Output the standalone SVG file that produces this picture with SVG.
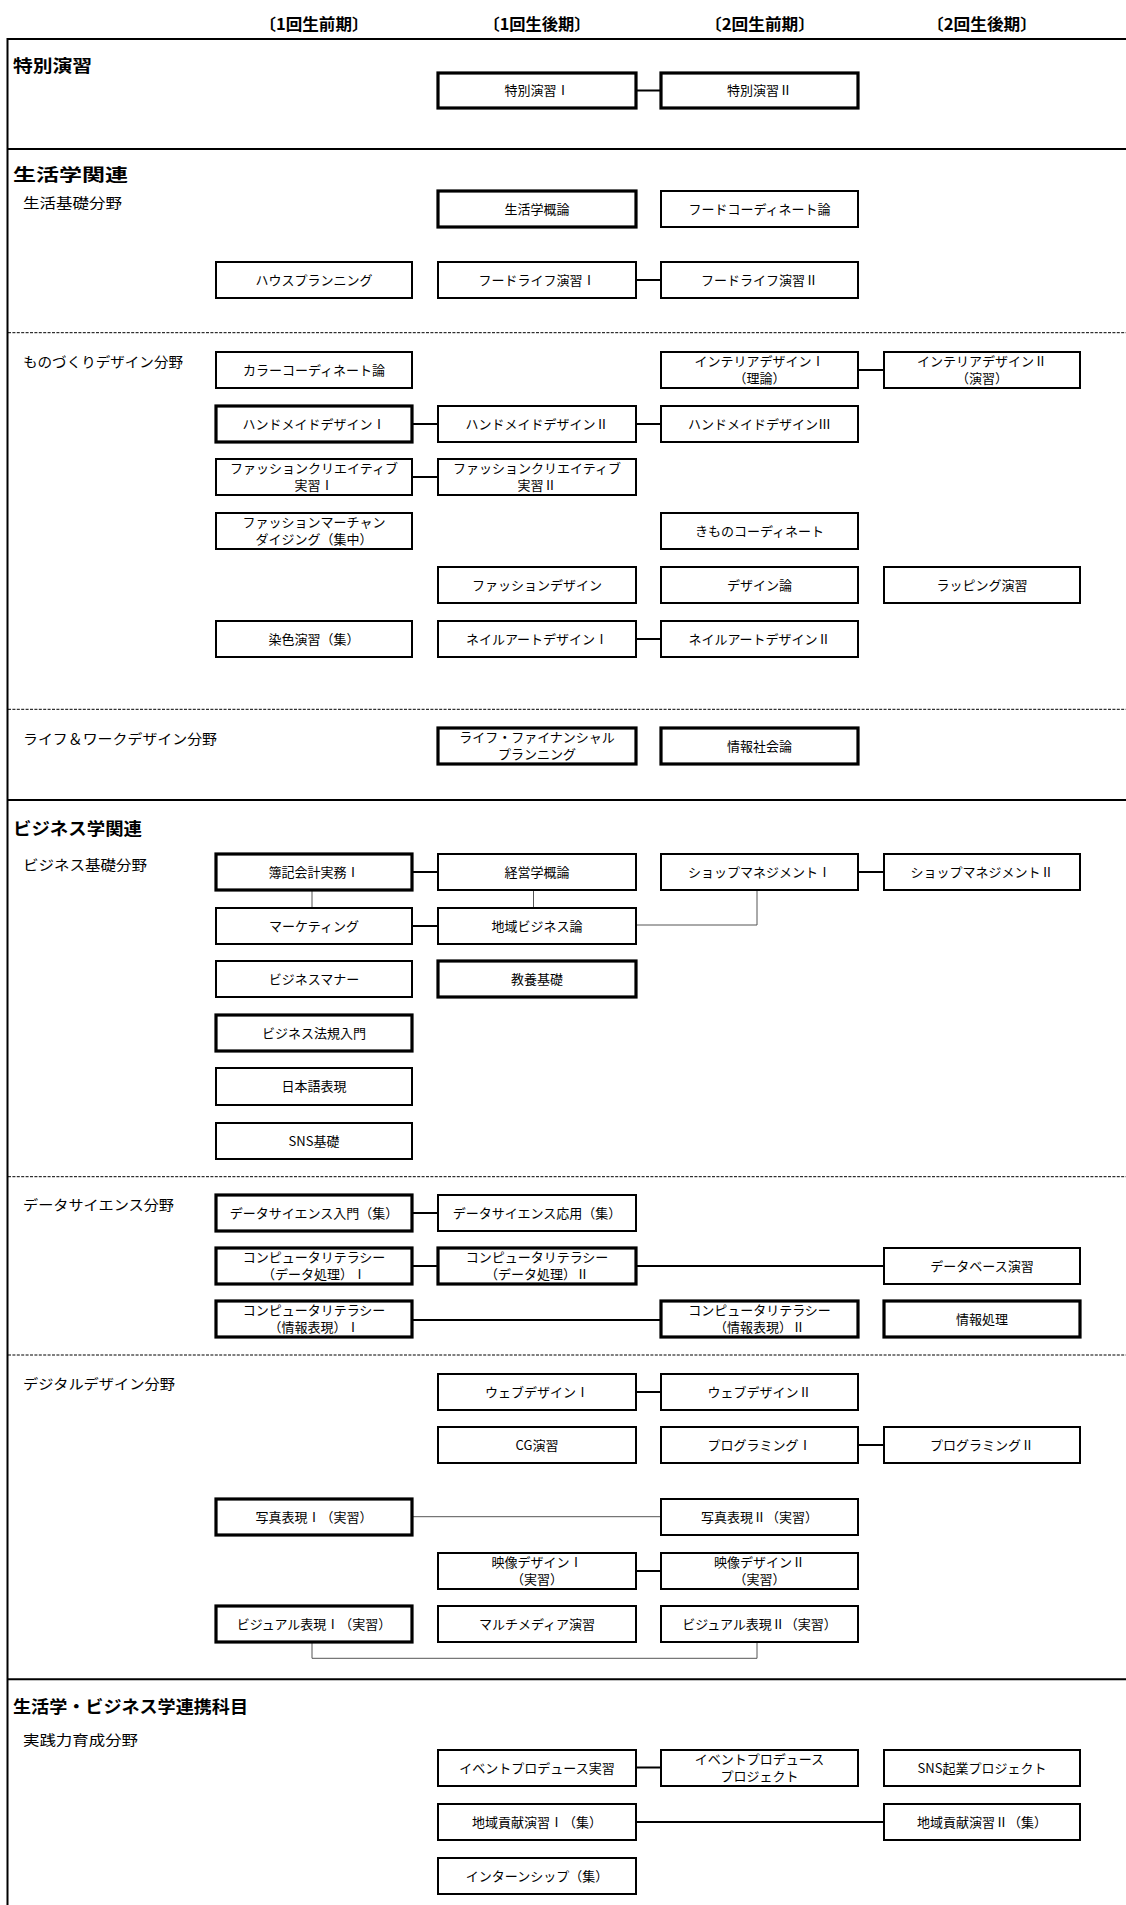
<svg xmlns="http://www.w3.org/2000/svg" width="1126" height="1905" viewBox="0 0 1126 1905">
<style>
.bg{fill:#fff}
.box{fill:#fff;stroke:#000;stroke-width:2}
.thick{stroke-width:3.2}
.t{font-family:"Noto Sans CJK JP","Noto Sans",sans-serif;font-size:13px;text-anchor:middle;fill:#000}
.hd{font-family:"Noto Sans CJK JP","Noto Sans",sans-serif;font-size:16px;font-weight:700;text-anchor:middle;fill:#000}
.ttl{font-family:"Noto Sans CJK JP","Noto Sans",sans-serif;font-size:17px;font-weight:700;fill:#000}
.lbl{font-family:"Noto Sans CJK JP","Noto Sans",sans-serif;font-size:14px;fill:#000}
.solid{stroke:#000;stroke-width:2;fill:none}
.dash{stroke:#000;stroke-width:1;stroke-dasharray:3 1.4;fill:none}
.conn{stroke:#000;stroke-width:2;fill:none}
.gconn{stroke:#555;stroke-width:1;fill:none}
</style>
<rect class="bg" x="0" y="0" width="1126" height="1905"/>

<g id="headers">
<text class="hd" x="314" y="30" textLength="109" lengthAdjust="spacingAndGlyphs">〔1回生前期〕</text>
<text class="hd" x="537" y="30" textLength="107" lengthAdjust="spacingAndGlyphs">〔1回生後期〕</text>
<text class="hd" x="760" y="30" textLength="110" lengthAdjust="spacingAndGlyphs">〔2回生前期〕</text>
<text class="hd" x="982" y="30" textLength="110" lengthAdjust="spacingAndGlyphs">〔2回生後期〕</text>
</g>

<g id="frame">
<line class="solid" x1="7.5" y1="39" x2="1126" y2="39"/>
<line class="solid" x1="7.5" y1="38" x2="7.5" y2="1905"/>
<line class="solid" x1="7.5" y1="149" x2="1126" y2="149"/>
<line class="dash" x1="8" y1="332.7" x2="1126" y2="332.7"/>
<line class="dash" x1="8" y1="709.3" x2="1126" y2="709.3"/>
<line class="solid" x1="7.5" y1="800" x2="1126" y2="800"/>
<line class="dash" x1="8" y1="1176.7" x2="1126" y2="1176.7"/>
<line class="dash" x1="8" y1="1355" x2="1126" y2="1355"/>
<line class="solid" x1="7.5" y1="1679.3" x2="1126" y2="1679.3"/>
</g>

<g id="section-labels">
<text class="ttl" x="13" y="72" textLength="79" lengthAdjust="spacingAndGlyphs">特別演習</text>
<text class="ttl" x="13" y="181" textLength="115" lengthAdjust="spacingAndGlyphs">生活学関連</text>
<text class="ttl" x="13" y="834.5" textLength="129" lengthAdjust="spacingAndGlyphs">ビジネス学関連</text>
<text class="ttl" x="13" y="1713" textLength="235" lengthAdjust="spacingAndGlyphs">生活学・ビジネス学連携科目</text>
<text class="lbl" x="23" y="207.5" textLength="99" lengthAdjust="spacingAndGlyphs">生活基礎分野</text>
<text class="lbl" x="23" y="367" textLength="160" lengthAdjust="spacingAndGlyphs">ものづくりデザイン分野</text>
<text class="lbl" x="23" y="743.5" textLength="194" lengthAdjust="spacingAndGlyphs">ライフ＆ワークデザイン分野</text>
<text class="lbl" x="23" y="870.3" textLength="124" lengthAdjust="spacingAndGlyphs">ビジネス基礎分野</text>
<text class="lbl" x="23" y="1210.3" textLength="151" lengthAdjust="spacingAndGlyphs">データサイエンス分野</text>
<text class="lbl" x="23" y="1388.6" textLength="152" lengthAdjust="spacingAndGlyphs">デジタルデザイン分野</text>
<text class="lbl" x="23" y="1745.3" textLength="115" lengthAdjust="spacingAndGlyphs">実践力育成分野</text>
</g>

<g id="connectors">
<line class="conn" x1="636" y1="90.5" x2="661" y2="90.5"/>
<line class="conn" x1="636" y1="280" x2="661" y2="280"/>
<line class="conn" x1="858" y1="370" x2="884" y2="370"/>
<line class="conn" x1="412" y1="424" x2="438" y2="424"/>
<line class="conn" x1="636" y1="424" x2="661" y2="424"/>
<line class="conn" x1="412" y1="477" x2="438" y2="477"/>
<line class="conn" x1="636" y1="639" x2="661" y2="639"/>
<line class="conn" x1="412" y1="872" x2="438" y2="872"/>
<line class="conn" x1="858" y1="872" x2="884" y2="872"/>
<line class="conn" x1="412" y1="926" x2="438" y2="926"/>
<line class="gconn" x1="312" y1="890" x2="312" y2="908"/>
<line class="gconn" x1="533.5" y1="890" x2="533.5" y2="908"/>
<polyline class="gconn" points="636,925 757,925 757,888"/>
<line class="conn" x1="412" y1="1213" x2="438" y2="1213"/>
<line class="conn" x1="412" y1="1266" x2="438" y2="1266"/>
<line class="conn" x1="636" y1="1266" x2="884" y2="1266"/>
<line class="conn" x1="412" y1="1320" x2="661" y2="1320"/>
<line class="conn" x1="636" y1="1392" x2="661" y2="1392"/>
<line class="conn" x1="858" y1="1445" x2="884" y2="1445"/>
<line class="gconn" x1="412" y1="1516.7" x2="661" y2="1516.7"/>
<line class="conn" x1="636" y1="1571" x2="661" y2="1571"/>
<polyline class="gconn" points="312,1643 312,1658.3 757,1658.3 757,1643"/>
<line class="conn" x1="636" y1="1767.5" x2="661" y2="1767.5"/>
<line class="conn" x1="636" y1="1822" x2="884" y2="1822"/>
</g>

<g id="n01"><rect class="box thick" x="438" y="73" width="198" height="35"/><text class="t" x="537" y="95">特別演習Ⅰ</text></g>
<g id="n02"><rect class="box thick" x="661" y="73" width="197" height="35"/><text class="t" x="759.5" y="95">特別演習Ⅱ</text></g>

<g id="n03"><rect class="box thick" x="438" y="191" width="198" height="36"/><text class="t" x="537" y="213.5">生活学概論</text></g>
<g id="n04"><rect class="box" x="661" y="191" width="197" height="36"/><text class="t" x="759.5" y="213.5">フードコーディネート論</text></g>
<g id="n05"><rect class="box" x="216" y="262" width="196" height="36"/><text class="t" x="314" y="284.5">ハウスプランニング</text></g>
<g id="n06"><rect class="box" x="438" y="262" width="198" height="36"/><text class="t" x="537" y="284.5">フードライフ演習Ⅰ</text></g>
<g id="n07"><rect class="box" x="661" y="262" width="197" height="36"/><text class="t" x="759.5" y="284.5">フードライフ演習Ⅱ</text></g>

<g id="n08"><rect class="box" x="216" y="352" width="196" height="36"/><text class="t" x="314" y="374.5">カラーコーディネート論</text></g>
<g id="n09"><rect class="box" x="661" y="352" width="197" height="36"/><text class="t" x="759.5" y="366">インテリアデザインⅠ</text><text class="t" x="759.5" y="382.5">（理論）</text></g>
<g id="n10"><rect class="box" x="884" y="352" width="196" height="36"/><text class="t" x="982" y="366">インテリアデザインⅡ</text><text class="t" x="982" y="382.5">（演習）</text></g>
<g id="n11"><rect class="box thick" x="216" y="406" width="196" height="36"/><text class="t" x="314" y="428.5">ハンドメイドデザインⅠ</text></g>
<g id="n12"><rect class="box" x="438" y="406" width="198" height="36"/><text class="t" x="537" y="428.5">ハンドメイドデザインⅡ</text></g>
<g id="n13"><rect class="box" x="661" y="406" width="197" height="36"/><text class="t" x="759.5" y="428.5">ハンドメイドデザインⅢ</text></g>
<g id="n14"><rect class="box" x="216" y="459" width="196" height="36"/><text class="t" x="314" y="473">ファッションクリエイティブ</text><text class="t" x="314" y="489.5">実習Ⅰ</text></g>
<g id="n15"><rect class="box" x="438" y="459" width="198" height="36"/><text class="t" x="537" y="473">ファッションクリエイティブ</text><text class="t" x="537" y="489.5">実習Ⅱ</text></g>
<g id="n16"><rect class="box" x="216" y="513" width="196" height="36"/><text class="t" x="314" y="527">ファッションマーチャン</text><text class="t" x="314" y="543.5">ダイジング（集中）</text></g>
<g id="n17"><rect class="box" x="661" y="513" width="197" height="36"/><text class="t" x="759.5" y="535.5">きものコーディネート</text></g>
<g id="n18"><rect class="box" x="438" y="567" width="198" height="36"/><text class="t" x="537" y="589.5">ファッションデザイン</text></g>
<g id="n19"><rect class="box" x="661" y="567" width="197" height="36"/><text class="t" x="759.5" y="589.5">デザイン論</text></g>
<g id="n20"><rect class="box" x="884" y="567" width="196" height="36"/><text class="t" x="982" y="589.5">ラッピング演習</text></g>
<g id="n21"><rect class="box" x="216" y="621" width="196" height="36"/><text class="t" x="314" y="643.5">染色演習（集）</text></g>
<g id="n22"><rect class="box" x="438" y="621" width="198" height="36"/><text class="t" x="537" y="643.5">ネイルアートデザインⅠ</text></g>
<g id="n23"><rect class="box" x="661" y="621" width="197" height="36"/><text class="t" x="759.5" y="643.5">ネイルアートデザインⅡ</text></g>

<g id="n24"><rect class="box thick" x="438" y="728" width="198" height="36"/><text class="t" x="537" y="742">ライフ・ファイナンシャル</text><text class="t" x="537" y="758.5">プランニング</text></g>
<g id="n25"><rect class="box thick" x="661" y="728" width="197" height="36"/><text class="t" x="759.5" y="750.5">情報社会論</text></g>

<g id="n26"><rect class="box thick" x="216" y="854" width="196" height="36"/><text class="t" x="314" y="876.5">簿記会計実務Ⅰ</text></g>
<g id="n27"><rect class="box" x="438" y="854" width="198" height="36"/><text class="t" x="537" y="876.5">経営学概論</text></g>
<g id="n28"><rect class="box" x="661" y="854" width="197" height="36"/><text class="t" x="759.5" y="876.5">ショップマネジメントⅠ</text></g>
<g id="n29"><rect class="box" x="884" y="854" width="196" height="36"/><text class="t" x="982" y="876.5">ショップマネジメントⅡ</text></g>
<g id="n30"><rect class="box" x="216" y="908" width="196" height="36"/><text class="t" x="314" y="930.5">マーケティング</text></g>
<g id="n31"><rect class="box" x="438" y="908" width="198" height="36"/><text class="t" x="537" y="930.5">地域ビジネス論</text></g>
<g id="n32"><rect class="box" x="216" y="961" width="196" height="36"/><text class="t" x="314" y="983.5">ビジネスマナー</text></g>
<g id="n33"><rect class="box thick" x="438" y="961" width="198" height="36"/><text class="t" x="537" y="983.5">教養基礎</text></g>
<g id="n34"><rect class="box thick" x="216" y="1015" width="196" height="36"/><text class="t" x="314" y="1037.5">ビジネス法規入門</text></g>
<g id="n35"><rect class="box" x="216" y="1068" width="196" height="37"/><text class="t" x="314" y="1091">日本語表現</text></g>
<g id="n36"><rect class="box" x="216" y="1123" width="196" height="36"/><text class="t" x="314" y="1145.5">SNS基礎</text></g>

<g id="n37"><rect class="box thick" x="216" y="1195" width="196" height="36"/><text class="t" x="314" y="1217.5">データサイエンス入門（集）</text></g>
<g id="n38"><rect class="box" x="438" y="1195" width="198" height="36"/><text class="t" x="537" y="1217.5">データサイエンス応用（集）</text></g>
<g id="n39"><rect class="box thick" x="216" y="1248" width="196" height="36"/><text class="t" x="314" y="1262">コンピュータリテラシー</text><text class="t" x="314" y="1278.5">（データ処理）Ⅰ</text></g>
<g id="n40"><rect class="box thick" x="438" y="1248" width="198" height="36"/><text class="t" x="537" y="1262">コンピュータリテラシー</text><text class="t" x="537" y="1278.5">（データ処理）Ⅱ</text></g>
<g id="n41"><rect class="box" x="884" y="1248" width="196" height="36"/><text class="t" x="982" y="1270.5">データベース演習</text></g>
<g id="n42"><rect class="box thick" x="216" y="1301" width="196" height="36"/><text class="t" x="314" y="1315">コンピュータリテラシー</text><text class="t" x="314" y="1331.5">（情報表現）Ⅰ</text></g>
<g id="n43"><rect class="box thick" x="661" y="1301" width="197" height="36"/><text class="t" x="759.5" y="1315">コンピュータリテラシー</text><text class="t" x="759.5" y="1331.5">（情報表現）Ⅱ</text></g>
<g id="n44"><rect class="box thick" x="884" y="1301" width="196" height="36"/><text class="t" x="982" y="1323.5">情報処理</text></g>

<g id="n45"><rect class="box" x="438" y="1374" width="198" height="36"/><text class="t" x="537" y="1396.5">ウェブデザインⅠ</text></g>
<g id="n46"><rect class="box" x="661" y="1374" width="197" height="36"/><text class="t" x="759.5" y="1396.5">ウェブデザインⅡ</text></g>
<g id="n47"><rect class="box" x="438" y="1427" width="198" height="36"/><text class="t" x="537" y="1449.5">CG演習</text></g>
<g id="n48"><rect class="box" x="661" y="1427" width="197" height="36"/><text class="t" x="759.5" y="1449.5">プログラミングⅠ</text></g>
<g id="n49"><rect class="box" x="884" y="1427" width="196" height="36"/><text class="t" x="982" y="1449.5">プログラミングⅡ</text></g>
<g id="n50"><rect class="box thick" x="216" y="1499" width="196" height="36"/><text class="t" x="314" y="1521.5">写真表現Ⅰ（実習）</text></g>
<g id="n51"><rect class="box" x="661" y="1499" width="197" height="36"/><text class="t" x="759.5" y="1521.5">写真表現Ⅱ（実習）</text></g>
<g id="n52"><rect class="box" x="438" y="1553" width="198" height="36"/><text class="t" x="537" y="1567">映像デザインⅠ</text><text class="t" x="537" y="1583.5">（実習）</text></g>
<g id="n53"><rect class="box" x="661" y="1553" width="197" height="36"/><text class="t" x="759.5" y="1567">映像デザインⅡ</text><text class="t" x="759.5" y="1583.5">（実習）</text></g>
<g id="n54"><rect class="box thick" x="216" y="1606" width="196" height="36"/><text class="t" x="314" y="1628.5">ビジュアル表現Ⅰ（実習）</text></g>
<g id="n55"><rect class="box" x="438" y="1606" width="198" height="36"/><text class="t" x="537" y="1628.5">マルチメディア演習</text></g>
<g id="n56"><rect class="box" x="661" y="1606" width="197" height="36"/><text class="t" x="759.5" y="1628.5">ビジュアル表現Ⅱ（実習）</text></g>

<g id="n57"><rect class="box" x="438" y="1750" width="198" height="36"/><text class="t" x="537" y="1772.5">イベントプロデュース実習</text></g>
<g id="n58"><rect class="box" x="661" y="1750" width="197" height="36"/><text class="t" x="759.5" y="1764">イベントプロデュース</text><text class="t" x="759.5" y="1780.5">プロジェクト</text></g>
<g id="n59"><rect class="box" x="884" y="1750" width="196" height="36"/><text class="t" x="982" y="1772.5">SNS起業プロジェクト</text></g>
<g id="n60"><rect class="box" x="438" y="1804" width="198" height="36"/><text class="t" x="537" y="1826.5">地域貢献演習Ⅰ（集）</text></g>
<g id="n61"><rect class="box" x="884" y="1804" width="196" height="36"/><text class="t" x="982" y="1826.5">地域貢献演習Ⅱ（集）</text></g>
<g id="n62"><rect class="box" x="438" y="1858" width="198" height="36"/><text class="t" x="537" y="1880.5">インターンシップ（集）</text></g>
</svg>
